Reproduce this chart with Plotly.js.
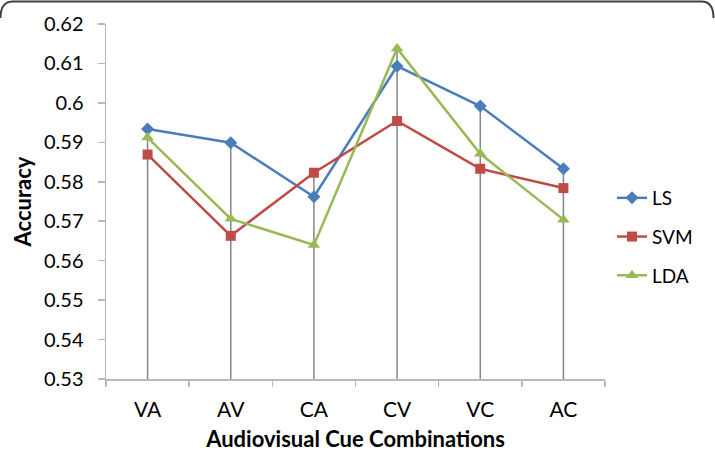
<!DOCTYPE html>
<html>
<head>
<meta charset="utf-8">
<script src="https://cdn.plot.ly/plotly-3.0.1.min.js"></script>
<style>
  html, body { margin: 0; padding: 0; background: #fff; }
  #chart { width: 715px; height: 454px; }
</style>
</head>
<body>
<div id="chart"></div>
<script>
// Accuracy of three classifiers per audiovisual cue combination
const categories = ['VA', 'AV', 'CA', 'CV', 'VC', 'AC'];
const lsValues  = [0.5934, 0.5899, 0.5762, 0.6093, 0.5992, 0.5833];
const svmValues = [0.5869, 0.5663, 0.5823, 0.5954, 0.5833, 0.5784];
const ldaValues = [0.5912, 0.5706, 0.5640, 0.6138, 0.5871, 0.5704];
const yTicks = [0.53, 0.54, 0.55, 0.56, 0.57, 0.58, 0.59, 0.6, 0.61, 0.62];

const yMin = 0.53, yMax = 0.62;
const font = 'Lato, "Open Sans", "Liberation Sans", sans-serif';

// Drop lines: from the highest series value at each category down to the axis
const dropX = [], dropY = [];
categories.forEach((c, i) => {
  const top = Math.max(lsValues[i], svmValues[i], ldaValues[i]);
  dropX.push(c, c, null);
  dropY.push(yMin, top, null);
});

const traces = [
  {
    x: dropX, y: dropY, type: 'scatter', mode: 'lines',
    line: { color: '#858585', width: 1.5 },
    showlegend: false, hoverinfo: 'skip'
  },
  {
    name: 'LS', legendgroup: 'ls', x: categories, y: lsValues,
    type: 'scatter', mode: 'lines+markers',
    line: { color: '#4a7ebb', width: 2.5 },
    marker: { symbol: 'diamond', size: 10, color: '#4a7ebb' }
  },
  {
    name: 'SVM', legendgroup: 'svm', x: categories, y: svmValues,
    type: 'scatter', mode: 'lines+markers',
    line: { color: '#be4b48', width: 2.5 },
    marker: { symbol: 'square', size: 10, color: '#be4b48' }
  },
  {
    name: 'LDA', legendgroup: 'lda', x: categories, y: ldaValues,
    type: 'scatter', mode: 'lines+markers',
    line: { color: '#98b954', width: 2.5 },
    marker: { symbol: 'triangle-up', size: 11, color: '#98b954' }
  }
];

// Plot area in pixels: x 106..605, y 24..379
const L = 106, R = 605, T = 24, B = 379;
const px = v => (v - L) / (R - L);
const py = v => (B - v) / (B - T);
const rad = 12;
const framePath =
  `M ${px(0.5)} ${py(18)} ` +
  `Q ${px(0.5)} ${py(1.5)} ${px(0.5 + rad)} ${py(1.5)} ` +
  `L ${px(713.5 - rad)} ${py(1.5)} ` +
  `Q ${px(713.5)} ${py(1.5)} ${px(713.5)} ${py(18)}`;

const layout = {
  width: 715, height: 454,
  margin: { l: L, r: 715 - R, t: T, b: 454 - B },
  paper_bgcolor: '#ffffff',
  plot_bgcolor: '#ffffff',
  font: { family: font, color: '#000000', size: 19 },
  showlegend: true,
  legend: {
    x: px(612), y: py(237), xanchor: 'left', yanchor: 'middle',
    font: { family: font, size: 19, color: '#000' },
    bgcolor: 'rgba(0,0,0,0)', itemwidth: 30,
    traceorder: 'grouped', tracegroupgap: 11
  },
  xaxis: {
    type: 'category',
    range: [-0.5, categories.length - 0.5],
    showgrid: false, zeroline: false,
    showline: true, linecolor: '#b8b8b8', linewidth: 1.5,
    ticks: 'outside', tickson: 'boundaries', ticklen: 6, tickcolor: '#b8b8b8', tickwidth: 1.5,
    tickfont: { family: font, size: 21, color: '#000' },
    ticklabelstandoff: 11,
    title: {
      text: '<b>Audiovisual Cue Combinations</b>',
      font: { family: font, size: 22, color: '#000' },
      standoff: 12
    }
  },
  yaxis: {
    range: [yMin, yMax],
    tickvals: yTicks,
    ticktext: yTicks.map(v => String(v)),
    showgrid: false, zeroline: false,
    showline: true, linecolor: '#b8b8b8', linewidth: 1.5,
    ticks: 'outside', ticklen: 7, tickcolor: '#b8b8b8', tickwidth: 1.5,
    tickfont: { family: font, size: 20, color: '#000' },
    ticklabelstandoff: 10,
    title: {
      text: '<b>Accuracy</b>',
      font: { family: font, size: 22, color: '#000' },
      standoff: 6
    }
  },
  shapes: [
    {
      type: 'path', xref: 'paper', yref: 'paper', path: framePath,
      line: { color: '#404040', width: 2 }, layer: 'above'
    }
  ]
};

Plotly.newPlot('chart', traces, layout, { displayModeBar: false, staticPlot: true });
</script>
</body>
</html>
